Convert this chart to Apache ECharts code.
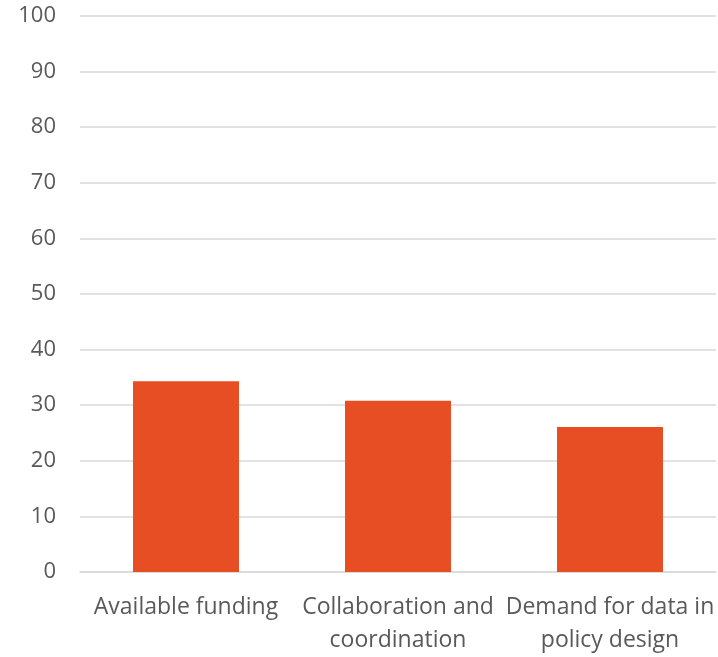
<!DOCTYPE html>
<html><head><meta charset="utf-8">
<script src="https://cdn.jsdelivr.net/npm/echarts@6/dist/echarts.min.js"></script>
<style>html,body{margin:0;padding:0;background:#fff;overflow:hidden}#c{width:718px;height:657px}</style>
</head><body><div id="c"></div>
<script>
var categories = ["Available funding", "Collaboration and\ncoordination", "Demand for data in\npolicy design"];
var values = [34.3, 30.8, 26.1];
var yTicks = {min: 0, max: 100, interval: 10};

var chart = echarts.init(document.getElementById('c'));
chart.setOption({
  animation: false,
  grid: {left: 80, right: 2, top: 16, bottom: 82},
  xAxis: {
    type: 'category', data: categories,
    axisLine: {lineStyle: {color: '#d9d9d9', width: 1.5}},
    axisTick: {show: false},
    axisLabel: {color: '#595959', fontFamily: '"Open Sans", sans-serif', fontSize: 23, margin: 19, lineHeight: 33, interval: 0}
  },
  yAxis: {
    type: 'value', min: yTicks.min, max: yTicks.max, interval: yTicks.interval,
    axisLine: {show: false}, axisTick: {show: false},
    splitLine: {lineStyle: {color: '#d9d9d9', width: 1.5}},
    axisLabel: {color: '#595959', fontFamily: '"Open Sans", sans-serif', fontSize: 22, margin: 24}
  },
  series: [{type: 'bar', data: values, barWidth: '50%', itemStyle: {color: '#e84e24'}}]
});
</script></body></html>
